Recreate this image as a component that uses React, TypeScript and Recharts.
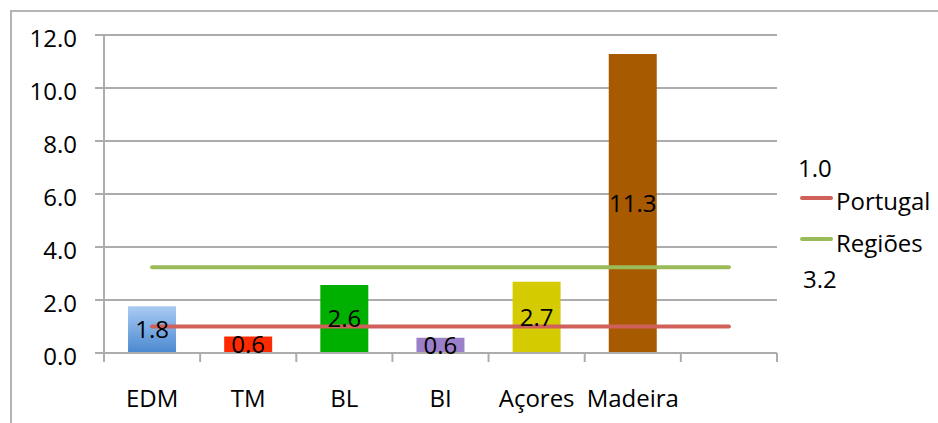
import React from 'react';
import {
  ComposedChart,
  Bar,
  Line,
  XAxis,
  YAxis,
  CartesianGrid,
  Cell,
  LabelList,
  Legend,
} from 'recharts';

// ---- data ----
const categories = ['EDM', 'TM', 'BL', 'BI', 'Açores', 'Madeira', ''];
const values: (number | null)[] = [1.76, 0.62, 2.57, 0.58, 2.69, 11.28, null];
const portugal = [1.0, 1.0, 1.0, 1.0, 1.0, 1.0, 1.0];
const regioes = [3.24, 3.24, 3.24, 3.24, 3.24, 3.24, 3.24];
const yTicks = [0, 2, 4, 6, 8, 10, 12];
const barColors = ['url(#edmGrad)', '#ff2a00', '#00b000', '#9b7fc8', '#d4cc00', '#a85a00', '#000'];

const data = categories.map((c, i) => ({
  name: c,
  v: values[i],
  portugal: portugal[i],
  regioes: regioes[i],
}));

const FONT = '"Open Sans", sans-serif';
const GRID = '#acacac';
const TICK_SIZE = 9;
const TICK_MARGIN = 28;
const RED = '#d0605a';
const GREEN = '#9bbb59';

const XTick = (props: any) => {
  const { x, y, payload, index, visibleTicksCount } = props;
  const half = payload && typeof payload.offset === 'number' ? payload.offset : 0;
  const axisY = y - TICK_SIZE - TICK_MARGIN;
  return (
    <g>
      <line x1={x - half} x2={x - half} y1={axisY} y2={axisY + TICK_SIZE} stroke={GRID} strokeWidth={2} />
      {index === visibleTicksCount - 1 && (
        <line x1={x + half} x2={x + half} y1={axisY} y2={axisY + TICK_SIZE} stroke={GRID} strokeWidth={2} />
      )}
      <text x={x} y={y} dy="0.71em" textAnchor="middle" fill="#000" fontSize={24} fontFamily={FONT}>
        {payload.value}
      </text>
    </g>
  );
};

const renderLegend = () => (
  <svg width={148} height={150} style={{ display: 'block', fontFamily: FONT }}>
    <text x={8} y={17} dominantBaseline="central" fontSize={24} fill="#000">
      {portugal[0].toFixed(1)}
    </text>
    <line x1={12} x2={41} y1={48} y2={48} stroke={RED} strokeWidth={4} strokeLinecap="round" />
    <text x={46} y={50} dominantBaseline="central" fontSize={24} fill="#000">Portugal</text>
    <line x1={12} x2={41} y1={89} y2={89} stroke={GREEN} strokeWidth={4} strokeLinecap="round" />
    <text x={46} y={92} dominantBaseline="central" fontSize={24} fill="#000">Regiões</text>
    <text x={13} y={128} dominantBaseline="central" fontSize={24} fill="#000">
      {regioes[0].toFixed(1)}
    </text>
  </svg>
);

export default function App() {
  return (
    <div
      style={{
        position: 'absolute',
        left: 0,
        top: 0,
        width: 938,
        height: 423,
        background: '#fff',
        fontFamily: FONT,
        overflow: 'hidden',
      }}
    >
      <div
        style={{
          position: 'absolute',
          left: 10,
          top: 10,
          width: 940,
          height: 430,
          borderLeft: '2px solid #b4b4b4',
          borderTop: '2px solid #b4b4b4',
        }}
      />
      <ComposedChart
        width={938}
        height={423}
        data={data}
        margin={{ top: 35, right: 161, bottom: 10, left: 14 }}
        barCategoryGap="25%"
        style={{ position: 'absolute', left: 0, top: 0 }}
      >
        <defs>
          <linearGradient id="edmGrad" x1="0" y1="0" x2="0" y2="1">
            <stop offset="0%" stopColor="#a9cbf3" />
            <stop offset="100%" stopColor="#4a88d0" />
          </linearGradient>
        </defs>
        <CartesianGrid horizontal vertical={false} stroke={GRID} strokeWidth={2} />
        <XAxis
          dataKey="name"
          interval={0}
          height={60}
          axisLine={{ stroke: GRID, strokeWidth: 2 }}
          tickLine={false}
          tickSize={TICK_SIZE}
          tickMargin={TICK_MARGIN}
          tick={<XTick />}
        />
        <YAxis
          domain={[0, 12]}
          ticks={yTicks}
          width={90}
          tickFormatter={(v: number) => v.toFixed(1)}
          axisLine={{ stroke: GRID, strokeWidth: 2 }}
          tickLine={{ stroke: GRID, strokeWidth: 2 }}
          tickSize={TICK_SIZE}
          tickMargin={18}
          tick={{ fill: '#000', fontSize: 24, fontFamily: FONT, dy: 3 }}
          interval={0}
        />
        <Legend
          layout="vertical"
          align="center"
          verticalAlign="middle"
          content={renderLegend}
          wrapperStyle={{ position: 'absolute', left: 790, top: 150, width: 148, height: 150 }}
        />
        <Bar dataKey="v" isAnimationActive={false}>
          {data.map((d, i) => (
            <Cell key={i} fill={barColors[i]} />
          ))}
          <LabelList
            dataKey="v"
            position="center"
            fill="#000"
            fontSize={24}
            fontFamily={FONT}
            formatter={(v: any) => (typeof v === 'number' ? v.toFixed(1) : '')}
          />
        </Bar>
        <Line
          dataKey="portugal"
          stroke={RED}
          strokeWidth={4}
          strokeLinecap="round"
          dot={false}
          activeDot={false}
          isAnimationActive={false}
        />
        <Line
          dataKey="regioes"
          stroke={GREEN}
          strokeWidth={4}
          strokeLinecap="round"
          dot={false}
          activeDot={false}
          isAnimationActive={false}
        />
      </ComposedChart>
    </div>
  );
}
